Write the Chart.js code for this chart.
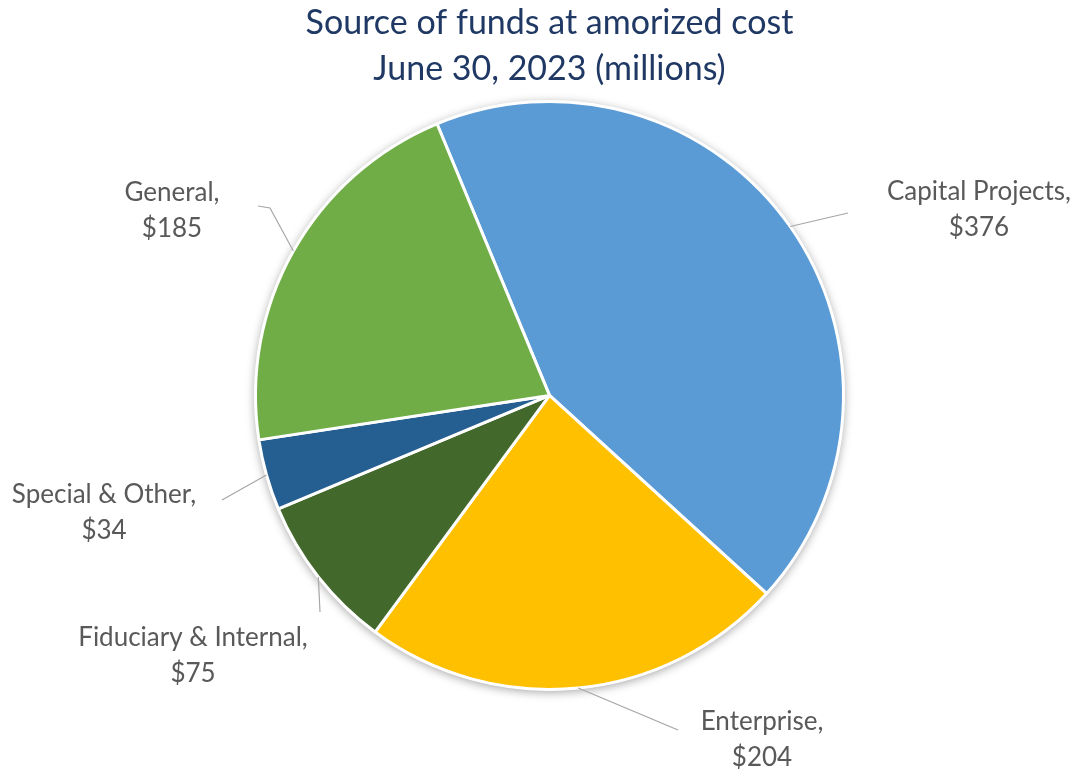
<!DOCTYPE html>
<html>
<head>
<meta charset="utf-8">
<script src="https://cdn.jsdelivr.net/npm/chart.js@4/dist/chart.umd.min.js"></script>
<style>
  html, body { margin: 0; padding: 0; background: #fff; }
  #caja { width: 1082px; height: 773px; }
</style>
</head>
<body>
<div id="caja"><canvas id="grafica"></canvas></div>
<script>
// Datos
const fondos = ['Capital Projects', 'Enterprise', 'Fiduciary & Internal', 'Special & Other', 'General'];
const millones = [376, 204, 75, 34, 185];
const colores = ['#5B9BD5', '#FFC000', '#43682B', '#255E91', '#70AD47'];

// centro de cada etiqueta y puntos finales de su línea guía
const etiquetas = [
  { x: 979, y: 192, guia: [[848, 213]] },
  { x: 762, y: 722, guia: [[678, 730]] },
  { x: 193, y: 638, guia: [[320, 612]] },
  { x: 104, y: 495, guia: [[222, 500]] },
  { x: 172, y: 193, guia: [[270, 208], [258, 206]] },
];

// sombra suave detrás del pastel
const sombra = {
  id: 'sombra',
  beforeDatasetsDraw(chart) {
    const arco = chart.getDatasetMeta(0).data[0];
    if (!arco) return;
    const ctx = chart.ctx;
    ctx.save();
    ctx.shadowColor = 'rgba(0,0,0,0.35)';
    ctx.shadowBlur = 10;
    ctx.shadowOffsetY = 2;
    ctx.fillStyle = '#fff';
    ctx.beginPath();
    ctx.arc(arco.x, arco.y, arco.outerRadius + 1, 0, Math.PI * 2);
    ctx.fill();
    ctx.restore();
  },
};

// etiquetas fuera del pastel con líneas guía
const rotulos = {
  id: 'rotulos',
  afterDatasetsDraw(chart) {
    const ctx = chart.ctx;
    const meta = chart.getDatasetMeta(0);
    ctx.save();
    meta.data.forEach((arco, i) => {
      const medio = (arco.startAngle + arco.endAngle) / 2;
      const x0 = arco.x + Math.cos(medio) * arco.outerRadius;
      const y0 = arco.y + Math.sin(medio) * arco.outerRadius;
      const et = etiquetas[i];
      ctx.strokeStyle = '#A6A6A6';
      ctx.lineWidth = 1.2;
      ctx.beginPath();
      ctx.moveTo(x0, y0);
      et.guia.forEach((p) => ctx.lineTo(p[0], p[1]));
      ctx.stroke();

      ctx.fillStyle = '#595959';
      ctx.font = '26px Lato';
      ctx.textAlign = 'center';
      ctx.textBaseline = 'middle';
      ctx.fillText(fondos[i] + ',', et.x, et.y);
      ctx.fillText('$' + millones[i], et.x, et.y + 36);
    });
    ctx.restore();
  },
};

const config = {
  type: 'pie',
  data: {
    labels: fondos,
    datasets: [
      {
        data: millones,
        backgroundColor: colores,
        borderColor: '#fff',
        borderWidth: 3,
      },
    ],
  },
  options: {
    responsive: true,
    maintainAspectRatio: false,
    animation: false,
    rotation: -22.5,
    layout: { padding: { top: 0, bottom: 82, left: 254, right: 237 } },
    plugins: {
      legend: { display: false },
      tooltip: { enabled: false },
      title: {
        display: true,
        text: ['Source of funds at amorized cost', 'June 30, 2023 (millions)'],
        color: '#1F3864',
        font: { family: 'Lato', size: 34, weight: 'normal', lineHeight: 1.35 },
        padding: { top: 0, bottom: 8 },
      },
    },
  },
  plugins: [sombra, rotulos],
};

let grafica = new Chart(document.querySelector('#grafica'), config);
</script>
</body>
</html>
